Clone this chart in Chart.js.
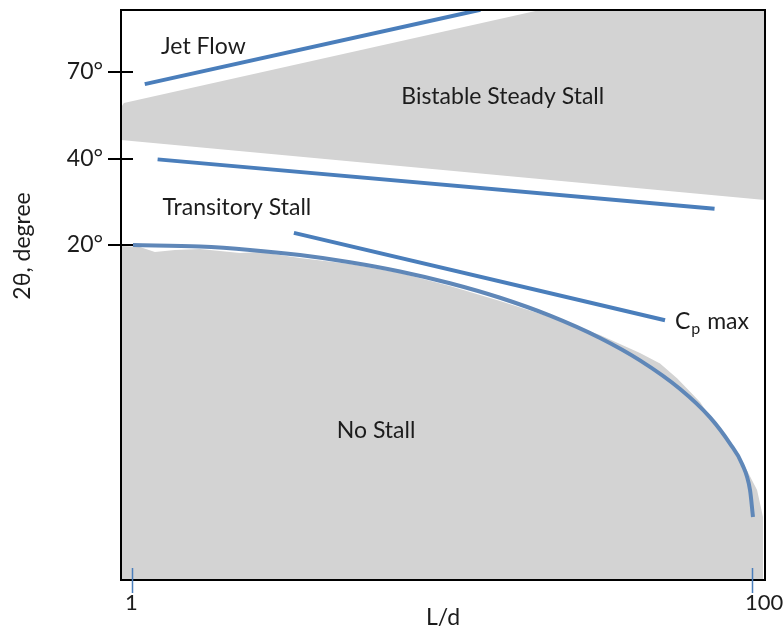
<!DOCTYPE html>
<html>
<head>
<meta charset="utf-8">
<title>Diffuser flow regimes</title>
<script src="https://cdn.jsdelivr.net/npm/chart.js@4.4.1/dist/chart.umd.min.js"></script>
<style>
  html, body { margin: 0; padding: 0; background: #ffffff; }
  #wrap { width: 783px; height: 628px; }
</style>
</head>
<body>
<div id="wrap"><canvas id="chart" width="783" height="628"></canvas></div>
<script>
// Axis ranges: L/d on a log axis, diverging angle on an index axis (one step per labelled angle)
const ldRange = [0.922, 110.1];
const levelRange = [-3.873, 2.717];

// Tick values and labels
const ldTicks = [1, 100];
const angleLevels = [0, 1, 2];
const angleLabels = ['20°', '40°', '70°'];

// Boundary lines (L/d, angle level)
const jetFlowLd = [1.10, 13.3];
const jetFlowLevel = [1.86, 2.72];

const bistableLd = [1.21, 75.7];
const bistableLevel = [0.99, 0.42];

const cpMaxLd = [3.33, 52.4];
const cpMaxLevel = [0.14, -0.87];

// Appreciable-stall curve
const stallLd = [1.0075, 1.657, 2.402, 3.483, 5.05, 7.32, 10.61, 15.39, 22.31, 32.33, 43.5, 58.6, 73.2, 84.9, 92.8, 98.5, 100.7];
const stallLevel = [0, -0.018, -0.057, -0.116, -0.199, -0.306, -0.442, -0.610, -0.817, -1.075, -1.334, -1.665, -1.993, -2.296, -2.528, -2.832, -3.145];

// Shaded "no stall" region, upper edge
const noStallLd = [0.922, 1.061, 1.186, 1.376, 1.657, 2.231, 2.588, 3.483, 5.05, 7.32, 10.61, 15.39, 22.31, 32.33, 43.5, 50.5, 57.3, 67.96, 73.2, 91.5, 103.8, 108.5, 108.5];
const noStallLevel = [-0.012, -0.023, -0.081, -0.058, -0.046, -0.092, -0.081, -0.150, -0.220, -0.324, -0.474, -0.647, -0.832, -1.040, -1.250, -1.370, -1.540, -1.815, -1.988, -2.451, -2.832, -3.145, -3.873];

// Shaded "bistable steady stall" band, upper and lower edges
const bandTopLd = [0.922, 0.942, 20.7, 110.1];
const bandTopLevel = [1.59, 1.642, 2.717, 2.717];
const bandBottomLd = [0.922, 110.1];
const bandBottomLevel = [1.214, 0.520];

// Region names
const regionNames = ['Jet Flow', 'Bistable Steady Stall', 'Transitory Stall', 'No Stall'];

const toPoints = (xs, ys) => xs.map((x, i) => ({ x: x, y: ys[i] }));

const BLUE = '#4a7ebb';
const CURVE = '#5f87b8';
const SHADE = '#d3d3d3';
const INK = '#1c1c1c';
const FONT = 'Lato, "Open Sans", "DejaVu Sans", sans-serif';
const SIZE = 23;

Chart.defaults.font.family = FONT;
Chart.defaults.font.size = SIZE;
Chart.defaults.color = INK;

// Where each region name sits (L/d, angle level, alignment)
const regionPlacement = [
  { ld: 1.70, level: 2.21, align: 'center' },
  { ld: 15.7, level: 1.63, align: 'center' },
  { ld: 2.18, level: 0.347, align: 'center' },
  { ld: 6.13, level: -2.231, align: 'center' }
];
const cpPlacement = { ld: 56.4, level: -0.971 };

const decorations = {
  id: 'decorations',
  afterDatasetsDraw(chart) {
    const { ctx, chartArea: a, scales } = chart;
    const xs = scales.x, ys = scales.y;
    ctx.save();

    // frame
    ctx.strokeStyle = '#000';
    ctx.lineWidth = 2;
    ctx.strokeRect(a.left, a.top, a.right - a.left, a.bottom - a.top);

    // angle tick marks crossing the left axis
    ctx.beginPath();
    angleLevels.forEach(v => {
      const y = Math.round(ys.getPixelForValue(v));
      ctx.moveTo(a.left - 13, y);
      ctx.lineTo(a.left + 12, y);
    });
    ctx.stroke();

    // L/d tick marks crossing the bottom axis
    ctx.strokeStyle = BLUE;
    ctx.lineWidth = 1.5;
    ctx.beginPath();
    ldTicks.forEach(v => {
      const x = Math.round(xs.getPixelForValue(v)) + 0.5;
      ctx.moveTo(x, a.bottom - 12);
      ctx.lineTo(x, a.bottom + 13);
    });
    ctx.stroke();

    // region names
    ctx.fillStyle = INK;
    ctx.font = SIZE + 'px ' + FONT;
    ctx.textBaseline = 'alphabetic';
    regionNames.forEach((name, i) => {
      const p = regionPlacement[i];
      ctx.textAlign = p.align;
      ctx.fillText(name, xs.getPixelForValue(p.ld), ys.getPixelForValue(p.level));
    });

    // Cp max label with subscript
    let cx = xs.getPixelForValue(cpPlacement.ld);
    const cy = ys.getPixelForValue(cpPlacement.level);
    ctx.textAlign = 'left';
    ctx.font = SIZE + 'px ' + FONT;
    ctx.fillText('C', cx, cy);
    cx += ctx.measureText('C').width + 1;
    ctx.font = '16px ' + FONT;
    ctx.fillText('p', cx, cy + 5);
    cx += ctx.measureText('p').width + 1;
    ctx.font = SIZE + 'px ' + FONT;
    ctx.fillText(' max', cx, cy);

    // vertical axis title
    ctx.save();
    ctx.translate(23, ys.getPixelForValue(0) + 1);
    ctx.rotate(-Math.PI / 2);
    ctx.textAlign = 'center';
    ctx.textBaseline = 'middle';
    ctx.font = SIZE + 'px ' + FONT;
    ctx.fillText('2θ, degree', 0, 0);
    ctx.restore();

    ctx.restore();
  }
};

const lineStyle = (color) => ({
  showLine: true,
  borderColor: color,
  borderWidth: 4,
  pointRadius: 0,
  fill: false,
  order: 1
});

// fixed axis boxes, no extra room reserved for overhanging labels
const fixBox = (size, isX) => s => {
  if (isX) s.height = size; else s.width = size;
  s.paddingLeft = s.paddingRight = s.paddingTop = s.paddingBottom = 0;
};

new Chart(document.getElementById('chart'), {
  type: 'scatter',
  data: {
    datasets: [
      { data: toPoints(bandTopLd, bandTopLevel), showLine: true, borderWidth: 0, pointRadius: 0, fill: false, order: 10 },
      { data: toPoints(bandBottomLd, bandBottomLevel), showLine: true, borderWidth: 0, pointRadius: 0, backgroundColor: SHADE, fill: '-1', order: 10 },
      { data: toPoints(noStallLd, noStallLevel), showLine: true, borderWidth: 0, pointRadius: 0, backgroundColor: SHADE, fill: 'start', order: 10 },
      Object.assign({ data: toPoints(jetFlowLd, jetFlowLevel) }, lineStyle(BLUE)),
      Object.assign({ data: toPoints(bistableLd, bistableLevel) }, lineStyle(BLUE)),
      Object.assign({ data: toPoints(cpMaxLd, cpMaxLevel) }, lineStyle(BLUE)),
      Object.assign({ data: toPoints(stallLd, stallLevel), cubicInterpolationMode: 'monotone' }, lineStyle(CURVE))
    ]
  },
  options: {
    responsive: false,
    animation: false,
    events: [],
    layout: { autoPadding: false, padding: { top: 10, right: 18, left: 0, bottom: 0 } },
    plugins: { legend: { display: false }, tooltip: { enabled: false } },
    scales: {
      x: {
        type: 'logarithmic',
        min: ldRange[0],
        max: ldRange[1],
        grid: { display: false, drawTicks: false },
        border: { display: false },
        afterBuildTicks: s => { s.ticks = ldTicks.map(v => ({ value: v })); },
        afterFit: fixBox(48, true),
        ticks: {
          align: 'start',
          labelOffset: -7,
          padding: 10,
          maxRotation: 0,
          autoSkip: false,
          color: INK,
          font: { size: 22 },
          callback: v => String(v)
        },
        title: { display: true, text: 'L/d', color: INK, padding: { top: 0, bottom: -3 } }
      },
      y: {
        type: 'linear',
        min: levelRange[0],
        max: levelRange[1],
        grid: { display: false, drawTicks: false },
        border: { display: false },
        afterBuildTicks: s => { s.ticks = angleLevels.map(v => ({ value: v })); },
        afterFit: fixBox(121, false),
        ticks: {
          padding: 18,
          color: INK,
          callback: v => angleLabels[angleLevels.indexOf(v)]
        }
      }
    }
  },
  plugins: [decorations]
});
</script>
</body>
</html>
